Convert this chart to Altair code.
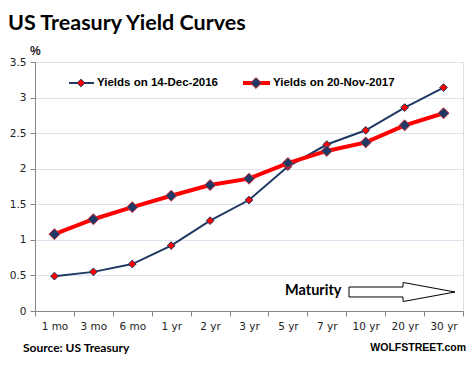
import altair as alt
import pandas as pd

maturities = ["1 mo", "3 mo", "6 mo", "1 yr", "2 yr", "3 yr", "5 yr", "7 yr", "10 yr", "20 yr", "30 yr"]
yields_2016 = [0.49, 0.55, 0.66, 0.92, 1.27, 1.56, 2.03, 2.34, 2.54, 2.86, 3.14]
yields_2017 = [1.08, 1.29, 1.46, 1.62, 1.77, 1.86, 2.08, 2.25, 2.37, 2.61, 2.78]
series_names = ["Yields on 14-Dec-2016", "Yields on 20-Nov-2017"]
y_ticks = [0, 0.5, 1, 1.5, 2, 2.5, 3, 3.5]

NAVY = "#1F3864"
RED = "#FF0000"

rows = []
for m, a, b in zip(maturities, yields_2016, yields_2017):
    rows.append({"maturity": m, "yield": a, "series": series_names[0]})
    rows.append({"maturity": m, "yield": b, "series": series_names[1]})
df = pd.DataFrame(rows)

x = alt.X("maturity:N", sort=maturities, title=None,
          axis=alt.Axis(labelAngle=0, tickBand="extent", tickSize=5, domainColor="#868686",
                        tickColor="#868686", labelFont="DejaVu Sans", labelFontSize=10.5,
                        labelColor="#222222", labelPadding=5, grid=False),
          scale=alt.Scale(paddingInner=0, paddingOuter=0))
y = alt.Y("yield:Q", title=None,
          scale=alt.Scale(domain=[0, 3.5], nice=False),
          axis=alt.Axis(values=y_ticks, format=".1~f", tickSize=5, domainColor="#868686",
                        tickColor="#868686", labelFont="DejaVu Sans", labelFontSize=10.5,
                        labelColor="#222222", labelPadding=4, gridColor="#DCE3EF", grid=True))

base = alt.Chart(df).encode(x=x, y=y)

line1 = base.transform_filter(alt.datum.series == series_names[0]).mark_line(color=NAVY, strokeWidth=2)
pts1 = base.transform_filter(alt.datum.series == series_names[0]).mark_point(
    shape="diamond", filled=True, fill=RED, stroke=NAVY, strokeWidth=1, size=60, opacity=1)
line2 = base.transform_filter(alt.datum.series == series_names[1]).mark_line(color=RED, strokeWidth=4)
pts2 = base.transform_filter(alt.datum.series == series_names[1]).mark_point(
    shape="diamond", filled=True, fill=NAVY, stroke="#D0303A", strokeWidth=1, size=120, opacity=1)

one = pd.DataFrame({"a": [0]})
ann = alt.Chart(one)

def txt(text, xv, yv, size, font="Lato", weight="bold", align="left", baseline="middle", color="#000000"):
    return ann.mark_text(text=text, font=font, fontSize=size, fontWeight=weight, align=align,
                         baseline=baseline, color=color).encode(x=alt.value(xv), y=alt.value(yv))

title = txt("US Treasury Yield Curves", -27, -32, 21.5, baseline="alphabetic")
pct = txt("%", -5, -7, 12, font="Liberation Sans", baseline="alphabetic", color="#222222")

leg_line1 = ann.mark_rule(color=NAVY, strokeWidth=2).encode(x=alt.value(34), x2=alt.value(59), y=alt.value(21))
leg_pt1 = ann.mark_point(shape="diamond", filled=True, fill=RED, stroke=NAVY, strokeWidth=1, size=60, opacity=1).encode(
    x=alt.value(46), y=alt.value(21))
leg_txt1 = txt(series_names[0], 62, 21, 11.5, font="Liberation Sans")
leg_line2 = ann.mark_rule(color=RED, strokeWidth=4).encode(x=alt.value(208), x2=alt.value(235), y=alt.value(21))
leg_pt2 = ann.mark_point(shape="diamond", filled=True, fill=NAVY, stroke="#D0303A", strokeWidth=1, size=120, opacity=1).encode(
    x=alt.value(221), y=alt.value(21))
leg_txt2 = txt(series_names[1], 238, 21, 11.5, font="Liberation Sans")

maturity = txt("Maturity", 250, 229, 14.5)
arrow_path = "M-1,-0.094 L0.02,-0.094 L0.02,-0.18 L1,0 L0.02,0.18 L0.02,0.094 L-1,0.094 Z"
arrow = ann.mark_point(shape=arrow_path, filled=False, stroke="#000000", strokeWidth=1, size=106 * 106,
                       opacity=1, fill="white").encode(x=alt.value(367), y=alt.value(230))
source = txt("Source: US Treasury", -12, 286, 12)
wolf = txt("WOLFSTREET.com", 431, 286, 10.5, font="Liberation Sans", align="right")

chart = alt.layer(line1, pts1, line2, pts2, title, pct, leg_line1, leg_pt1, leg_txt1,
                  leg_line2, leg_pt2, leg_txt2, maturity, arrow, source, wolf).properties(
    width=428, height=249,
    autosize=alt.AutoSizeParams(type="none"),
    padding={"left": 27, "top": 54, "right": 3, "bottom": 44},
).configure_view(stroke=None).configure(background="white")

chart.save("out.html", embed_options={"renderer": "svg", "actions": False})
